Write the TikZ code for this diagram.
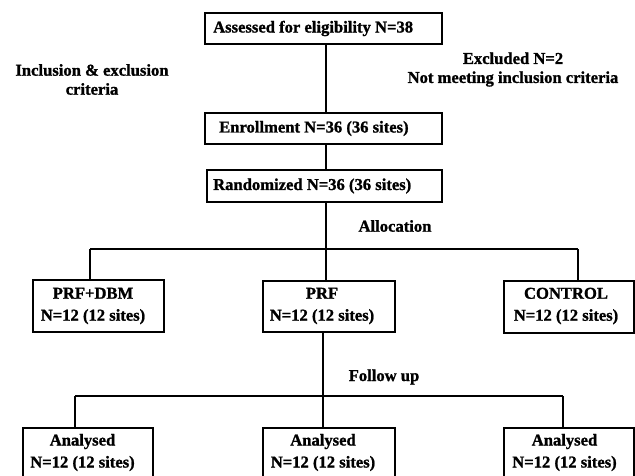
\documentclass[tikz,border=0pt]{standalone}
\usepackage{fontspec}
\setmainfont{Liberation Serif}[BoldFeatures={FakeBold=1.2}]
\begin{document}
\begin{tikzpicture}[x=1pt,y=-1pt,
  box/.style={draw=black, line width=2pt, fill=white, inner sep=0pt},
  txt/.style={font=\bfseries\fontsize{16.6}{22}\selectfont, align=center, inner sep=0pt},
  ltxt/.style={font=\bfseries\fontsize{16.6}{19}\selectfont, align=center, inner sep=0pt},
  btxt/.style={font=\bfseries\fontsize{16.6}{22}\selectfont, anchor=west, inner sep=0pt},
  conn/.style={draw=black, line width=1.8pt}]
\useasboundingbox (0,0) rectangle (635,475);
\clip (0,0) rectangle (635,475);
\fill[white] (0,0) rectangle (635,475);

% junction coordinates
\coordinate (trunk) at (326,0);
\coordinate (jA) at (326,249);
\coordinate (jAl) at (90,249);
\coordinate (jAr) at (578,249);
\coordinate (jB) at (323,396);
\coordinate (jBl) at (75,396);
\coordinate (jBr) at (563,396);

% boxes
\node[box, minimum width=237pt, minimum height=31pt] (assess) at (323.5,28.5) {};
\node[box, minimum width=237pt, minimum height=31pt] (enrol) at (323.5,128.5) {};
\node[box, minimum width=235pt, minimum height=32pt] (rand) at (324.5,186) {};

\node[box, minimum width=131pt, minimum height=52pt] (dbm) at (98.5,306) {};
\node[box, minimum width=132pt, minimum height=51pt] (prf) at (329,306.5) {};
\node[box, minimum width=130pt, minimum height=52pt] (ctrl) at (569,306.5) {};

\node[box, minimum width=130pt, minimum height=50pt] (an1) at (88,453) {};
\node[box, minimum width=132pt, minimum height=50pt] (an2) at (329,453) {};
\node[box, minimum width=130pt, minimum height=50pt] (an3) at (569,453) {};

% connectors
\draw[conn] (assess.south -| trunk) -- (enrol.north -| trunk);
\draw[conn] (enrol.south -| trunk) -- (rand.north -| trunk);
\draw[conn] (rand.south -| trunk) -- (jA);
\draw[conn] (jAl) -- (jAr);
\draw[conn] (jAl) -- (dbm.north -| jAl);
\draw[conn] (jA) -- (prf.north -| jA);
\draw[conn] (jAr) -- (ctrl.north -| jAr);
\draw[conn] (prf.south -| jB) -- (an2.north -| jB);
\draw[conn] (jBl) -- (jBr);
\draw[conn] (jBl) -- (an1.north -| jBl);
\draw[conn] (jBr) -- (an3.north -| jBr);

% texts
\node[btxt] (tassess) at (213,28.5) {Assessed for eligibility N=38};
\node[btxt] (tenrol) at (219,128.5) {Enrollment N=36 (36 sites)};
\node[btxt] (trand) at (213,186) {Randomized N=36 (36 sites)};

\node[txt] (tdbm) at (93,306) {PRF+DBM\\N=12 (12 sites)};
\node[txt] (tprf) at (322,306) {PRF\\N=12 (12 sites)};
\node[txt] (tctrl) at (566,306) {CONTROL\\N=12 (12 sites)};

\node[txt] (tan1) at (82.5,452.5) {Analysed\\N=12 (12 sites)};
\node[txt] (tan2) at (323,452.5) {Analysed\\N=12 (12 sites)};
\node[txt] (tan3) at (564.5,452.5) {Analysed\\N=12 (12 sites)};

\node[ltxt] (incl) at (92,79.5) {Inclusion \& exclusion\\criteria};
\node[ltxt] (excl) at (513,69.5) {Excluded N=2\\Not meeting inclusion criteria};
\node[ltxt] (alloc) at (395,226) {Allocation};
\node[ltxt] (follow) at (384,377) {Follow up};
\end{tikzpicture}
\end{document}
